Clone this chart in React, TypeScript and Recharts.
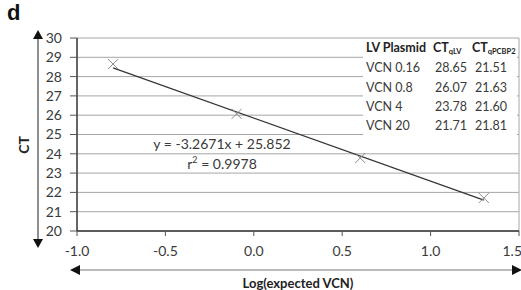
import React from 'react';
import {
  ComposedChart,
  Scatter,
  Line,
  XAxis,
  YAxis,
  CartesianGrid,
  ReferenceLine,
} from 'recharts';

// standard curve: LV plasmid dilutions
const vcnLabels = ['VCN 0.16', 'VCN 0.8', 'VCN 4', 'VCN 20'];
const logVcn = [-0.796, -0.097, 0.602, 1.301];
const ctQlv = [28.65, 26.07, 23.78, 21.71];
const ctQpcbp2 = [21.51, 21.63, 21.6, 21.81];

// linear fit drawn between first and last point
const trendX = [-0.796, 1.301];
const trendY = [28.45, 21.6];

const xTicks = [-1.0, -0.5, 0.0, 0.5, 1.0, 1.5];
const yTicks = [20, 21, 22, 23, 24, 25, 26, 27, 28, 29, 30];

const equationText = 'y = -3.2671x + 25.852';
const r2Value = '0.9978';

const FONT = "Lato, 'Open Sans', sans-serif";
const TEXT = '#3a3a3a';

const points = logVcn.map((x, i) => ({ x, y: ctQlv[i] }));
const trend = trendX.map((x, i) => ({ x, y: trendY[i] }));

const XMark = (props: any) => {
  const { cx, cy } = props;
  const s = 5;
  return (
    <g stroke="#8a8a8a" strokeWidth={1}>
      <line x1={cx - s} y1={cy - s} x2={cx + s} y2={cy + s} />
      <line x1={cx - s} y1={cy + s} x2={cx + s} y2={cy - s} />
    </g>
  );
};

const Overlay = () => {
  const rowY = [48, 68, 88, 107, 126];
  return (
    <svg
      width={521}
      height={290}
      style={{ position: 'absolute', left: 0, top: 0, pointerEvents: 'none', fontFamily: FONT }}
    >
      {/* panel letter */}
      <text x={7} y={20} fontSize={22} fontWeight="bold" fill="#111" fontFamily="'Liberation Sans', Arial, sans-serif">d</text>

      {/* vertical double arrow */}
      <line x1={38} y1={36} x2={38} y2={241} stroke="#444" strokeWidth={1.2} />
      <polygon points="38,30 33,39 43,39" fill="#111" />
      <polygon points="38,248 33,239 43,239" fill="#111" />
      <text x={0} y={0} transform="translate(29,145) rotate(-90)" textAnchor="middle" fontSize={14} fontWeight="bold" fill="#222">CT</text>

      {/* horizontal double arrow */}
      <line x1={78} y1={270} x2={514} y2={270} stroke="#777" strokeWidth={1.2} />
      <polygon points="70,270 80,265 80,275" fill="#111" />
      <polygon points="522,270 512,265 512,275" fill="#111" />
      <text x={298} y={288} textAnchor="middle" fontSize={13} fontWeight="bold" fill="#222">Log(expected VCN)</text>

      {/* regression text */}
      <text x={222} y={149} textAnchor="middle" fontSize={14} fill={TEXT}>{equationText}</text>
      <text x={222} y={169} textAnchor="middle" fontSize={14} fill={TEXT}>
        r<tspan fontSize={9} dy={-6}>2</tspan><tspan dy={6}> = {r2Value}</tspan>
      </text>

      {/* data table */}
      <rect x={363} y={39} width={154} height={103} fill="#fff" />
      <text x={366} y={rowY[0] + 4} fontSize={12.5} fontWeight="bold" fill="#222">LV Plasmid</text>
      <text x={433} y={rowY[0] + 4} fontSize={12.5} fontWeight="bold" fill="#222">
        CT<tspan fontSize={7.5} dy={2}>qLV</tspan>
      </text>
      <text x={472} y={rowY[0] + 4} fontSize={12.5} fontWeight="bold" fill="#222">
        CT<tspan fontSize={7.5} dy={2}>qPCBP2</tspan>
      </text>
      {vcnLabels.map((lab, i) => (
        <g key={lab} fontSize={12.5} fill={TEXT}>
          <text x={366} y={rowY[i + 1] + 4}>{lab}</text>
          <text x={435} y={rowY[i + 1] + 4}>{ctQlv[i].toFixed(2)}</text>
          <text x={475} y={rowY[i + 1] + 4}>{ctQpcbp2[i].toFixed(2)}</text>
        </g>
      ))}
    </svg>
  );
};

export default function App() {
  return (
    <div style={{ position: 'absolute', left: 0, top: 0, width: 521, height: 290, background: '#fff', overflow: 'hidden' }}>
      <ComposedChart
        width={521}
        height={290}
        margin={{ top: 38, right: 2, bottom: 29, left: 0 }}
        style={{ fontFamily: FONT }}
      >
        <CartesianGrid horizontal vertical={false} stroke="#a6a6a6" strokeWidth={1} />
        <XAxis
          dataKey="x"
          type="number"
          domain={[-1, 1.5]}
          ticks={xTicks}
          tickFormatter={(v: number) => v.toFixed(1)}
          axisLine={{ stroke: '#333', strokeWidth: 1.5 }}
          tickLine={{ stroke: '#555' }}
          tickSize={5}
          tickMargin={10}
          height={30}
          tick={{ fill: TEXT, fontSize: 14 }}
          allowDataOverflow
        />
        <YAxis
          dataKey="y"
          type="number"
          domain={[20, 30]}
          ticks={yTicks}
          width={77}
          axisLine={{ stroke: '#333', strokeWidth: 1.5 }}
          tickLine={{ stroke: '#555' }}
          tickSize={7}
          tickMargin={8}
          tick={{ fill: TEXT, fontSize: 14 }}
          interval={0}
        />
        <ReferenceLine x={1.5} stroke="#a6a6a6" />
        <Line
          data={trend}
          dataKey="y"
          type="linear"
          stroke="#333"
          strokeWidth={1.2}
          dot={false}
          activeDot={false}
          isAnimationActive={false}
        />
        <Scatter data={points} dataKey="y" shape={<XMark />} isAnimationActive={false} />
      </ComposedChart>
      <Overlay />
    </div>
  );
}
